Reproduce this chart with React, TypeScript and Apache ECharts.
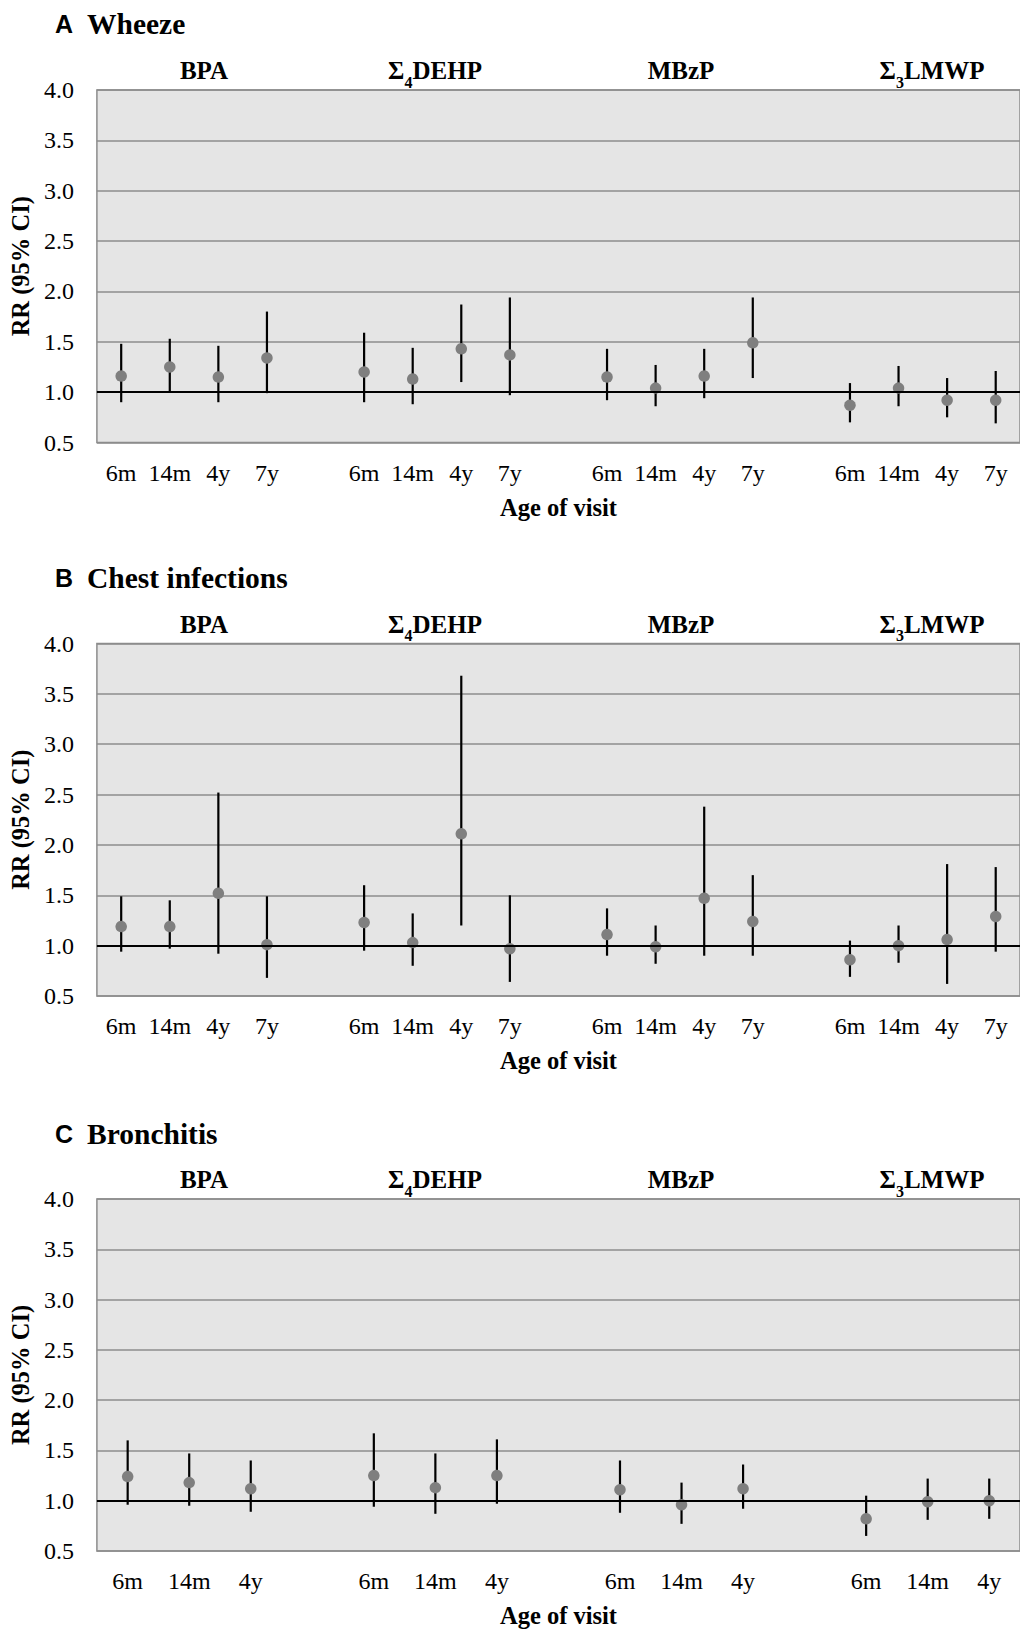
import React, { useEffect, useRef } from "react";
import * as echarts from "echarts";

// ---------- data ----------
const AGES_4 = ["6m", "14m", "4y", "7y"];
const AGES_3 = ["6m", "14m", "4y"];
const EXPOSURES = ["BPA", "Σ4DEHP", "MBzP", "Σ3LMWP"];
const PANEL_LETTERS = ["A", "B", "C"];
const PANEL_TITLES = ["Wheeze", "Chest infections", "Bronchitis"];
const Y_TICKS = [0.5, 1.0, 1.5, 2.0, 2.5, 3.0, 3.5, 4.0];

// Wheeze, per exposure: 6m, 14m, 4y, 7y
const wheezeRR = [1.16, 1.25, 1.15, 1.34, 1.2, 1.13, 1.43, 1.37, 1.15, 1.04, 1.16, 1.49, 0.87, 1.04, 0.92, 0.92];
const wheezeLow = [0.9, 1.0, 0.9, 0.99, 0.9, 0.88, 1.1, 0.97, 0.92, 0.86, 0.94, 1.14, 0.7, 0.86, 0.75, 0.69];
const wheezeHigh = [1.48, 1.53, 1.46, 1.8, 1.59, 1.44, 1.87, 1.94, 1.43, 1.27, 1.43, 1.94, 1.09, 1.26, 1.14, 1.21];

// Chest infections
const chestRR = [1.19, 1.19, 1.52, 1.01, 1.23, 1.03, 2.11, 0.97, 1.11, 0.99, 1.47, 1.24, 0.86, 1.0, 1.06, 1.29];
const chestLow = [0.94, 0.97, 0.92, 0.68, 0.95, 0.8, 1.2, 0.64, 0.9, 0.82, 0.9, 0.9, 0.69, 0.83, 0.62, 0.94];
const chestHigh = [1.49, 1.45, 2.52, 1.49, 1.6, 1.32, 3.68, 1.5, 1.37, 1.2, 2.38, 1.7, 1.05, 1.2, 1.81, 1.78];

// Bronchitis, per exposure: 6m, 14m, 4y
const bronchRR = [1.24, 1.18, 1.12, 1.25, 1.13, 1.25, 1.11, 0.96, 1.12, 0.82, 0.99, 1.0];
const bronchLow = [0.96, 0.95, 0.89, 0.94, 0.87, 0.97, 0.88, 0.77, 0.92, 0.65, 0.81, 0.82];
const bronchHigh = [1.6, 1.47, 1.4, 1.67, 1.47, 1.61, 1.4, 1.18, 1.36, 1.05, 1.22, 1.22];

// ---------- layout ----------
const SERIF = "'Liberation Serif', 'Times New Roman', serif";
const SANS = "'Liberation Sans', Arial, sans-serif";
const GRID_LEFT = 95;
const GRID_WIDTH = 935;
const GRID_HEIGHT = 352.5;
const GRID_TOPS = [90, 643.5, 1199];
const TITLE_Y = [24, 578, 1134];
const GROUP_LABEL_X = [204, 435, 681, 932];

function buildPanel(ages: string[], rr: number[], lo: number[], hi: number[]) {
  const cats: string[] = [];
  const points: number[][] = [];
  const bars: number[][] = [];
  let k = 0;
  EXPOSURES.forEach((_, g) => {
    ages.forEach((a) => {
      const idx = cats.length;
      cats.push(a);
      points.push([idx, rr[k]]);
      bars.push([idx, lo[k], hi[k]]);
      k++;
    });
    if (g < EXPOSURES.length - 1) cats.push("");
  });
  return { cats, points, bars };
}

function groupLabel(name: string, x: number, y: number) {
  const m = name.match(/^Σ(\d)(.*)$/);
  const text = m ? `{b|Σ}{s|${m[1]}}{b|${m[2]}}` : `{b|${name}}`;
  return {
    type: "text",
    x,
    y,
    style: {
      text,
      align: "center",
      verticalAlign: "middle",
      rich: {
        b: { fontFamily: SERIF, fontSize: 25, fontWeight: "bold", fill: "#000", lineHeight: 28, verticalAlign: "top" },
        s: { fontFamily: SERIF, fontSize: 16, fontWeight: "bold", fill: "#000", lineHeight: 16, padding: [16, 0, 0, 0], verticalAlign: "top" },
      },
    },
  };
}

export default function App() {
  const ref = useRef<HTMLDivElement>(null);
  useEffect(() => {
    if (!ref.current) return;
    const chart = echarts.init(ref.current, undefined, { renderer: "svg" });
    const panels = [
      buildPanel(AGES_4, wheezeRR, wheezeLow, wheezeHigh),
      buildPanel(AGES_4, chestRR, chestLow, chestHigh),
      buildPanel(AGES_3, bronchRR, bronchLow, bronchHigh),
    ];

    const grid = panels.map((_, i) => ({
      left: GRID_LEFT,
      top: GRID_TOPS[i],
      width: GRID_WIDTH,
      height: GRID_HEIGHT,
      show: true,
      backgroundColor: "#e5e5e5",
      borderColor: "#8c8c8c",
      borderWidth: 1.5,
      containLabel: false,
    }));

    const xAxis = panels.map((p, i) => ({
      type: "category",
      gridIndex: i,
      data: p.cats,
      boundaryGap: true,
      axisLine: { show: false },
      axisTick: { show: false },
      splitLine: { show: false },
      axisLabel: { interval: 0, fontFamily: SERIF, fontSize: 24, color: "#000", margin: 18 },
      name: "Age of visit",
      nameLocation: "middle",
      nameGap: 52,
      nameTextStyle: { fontFamily: SERIF, fontSize: 24.5, fontWeight: "bold", color: "#000" },
    }));

    const yAxis = panels.map((_, i) => ({
      type: "value",
      gridIndex: i,
      min: Y_TICKS[0],
      max: Y_TICKS[Y_TICKS.length - 1],
      interval: 0.5,
      axisLine: { show: false },
      axisTick: { show: false },
      splitLine: { show: true, lineStyle: { color: "#8c8c8c", width: 1.5 } },
      axisLabel: {
        fontFamily: SERIF,
        fontSize: 24,
        color: "#000",
        margin: 23,
        formatter: (v: number) => v.toFixed(1),
      },
      name: "RR (95% CI)",
      nameLocation: "middle",
      nameRotate: 90,
      nameGap: 61,
      nameTextStyle: { fontFamily: SERIF, fontSize: 24.5, fontWeight: "bold", color: "#000" },
    }));

    const series: any[] = [];
    panels.forEach((p, i) => {
      series.push({
        type: "custom",
        xAxisIndex: i,
        yAxisIndex: i,
        z: 2,
        data: p.bars,
        encode: { x: 0, y: [1, 2] },
        renderItem: (params: any, api: any) => {
          const x = api.value(0);
          const a = api.coord([x, api.value(1)]);
          const b = api.coord([x, api.value(2)]);
          return {
            type: "line",
            shape: { x1: a[0], y1: a[1], x2: b[0], y2: b[1] },
            style: { stroke: "#000", lineWidth: 2.2 },
          };
        },
        markLine: {
          silent: true,
          symbol: "none",
          label: { show: false },
          lineStyle: { color: "#000", width: 2, type: "solid" },
          data: [{ yAxis: 1 }],
        },
      });
      series.push({
        type: "scatter",
        xAxisIndex: i,
        yAxisIndex: i,
        z: 3,
        symbol: "circle",
        symbolSize: 11.5,
        itemStyle: { color: "#7f7f7f", opacity: 1 },
        data: p.points,
      });
    });

    const graphic: any[] = [];
    PANEL_TITLES.forEach((t, i) => {
      graphic.push({
        type: "text",
        x: 55,
        y: TITLE_Y[i],
        style: { text: PANEL_LETTERS[i], font: `bold 25px ${SANS}`, fill: "#000", verticalAlign: "middle" },
      });
      graphic.push({
        type: "text",
        x: 87,
        y: TITLE_Y[i],
        style: { text: t, font: `bold 29.5px ${SERIF}`, fill: "#000", verticalAlign: "middle" },
      });
      EXPOSURES.forEach((e, g) => {
        graphic.push(groupLabel(e, GROUP_LABEL_X[g], GRID_TOPS[i] - 18));
      });
    });

    chart.setOption({
      animation: false,
      backgroundColor: "#fff",
      grid,
      xAxis,
      yAxis,
      series,
      graphic,
    });
    return () => chart.dispose();
  }, []);
  return (
    <div
      ref={ref}
      style={{ position: "absolute", left: 0, top: 0, width: 1020, height: 1629 }}
    />
  );
}
